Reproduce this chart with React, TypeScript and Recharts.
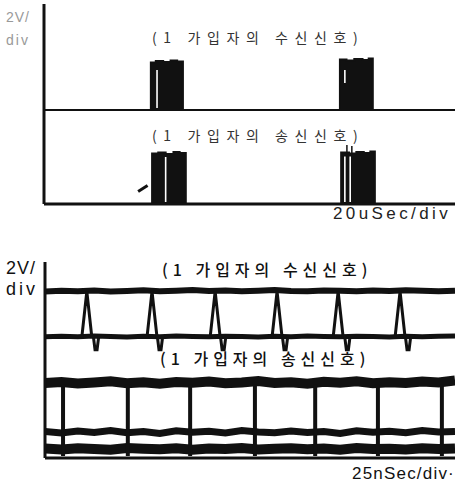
import { Area, ComposedChart, Line, ReferenceLine, XAxis, YAxis } from "recharts";

// upper photo (20uSec/div): x in divisions, y in volts-ish units
const rxBase = 3.76;
const rxBurstTime = [0, 2.6, 2.72, 2.9, 3.08, 3.24, 3.38, 7.2, 7.36, 7.55, 7.75, 7.9, 8.0, 10];
const rxBurstLevel = [3.76, 5.66, 5.72, 5.68, 5.74, 5.7, 3.76, 5.78, 5.74, 5.8, 5.76, 5.82, 3.76, 3.76];

const txBase = 0;
const txBurstTime = [0, 2.63, 2.78, 2.96, 3.15, 3.3, 3.45, 7.23, 7.42, 7.6, 7.78, 7.94, 8.05, 10];
const txBurstLevel = [0, 2.02, 2.06, 2.0, 2.08, 2.04, 0, 2.06, 2.02, 2.08, 2.04, 2.1, 0, 0];

// white slits inside the bursts
const gapTime = [2.75, 7.32, 2.96, 7.32, 7.45];
const gapLow = [3.84, 4.84, 0.08, 0.08, 0.08];
const gapHigh = [5.36, 5.36, 1.88, 1.9, 1.9];

// thin glitches above the second transmit burst
const glitchTime = [7.37, 7.49];
const glitchHigh = [2.36, 2.32];

// lower photo (25nSec/div)
const noiseTime = [0, 0.4, 0.8, 1.2, 1.6, 2.0, 2.4, 2.8, 3.2, 3.6, 4.0, 4.4, 4.8, 5.2, 5.6, 6.0, 6.4, 6.8, 7.2, 7.6, 8.0, 8.4, 8.8, 9.2, 9.6, 10];
const rxHighLevel = [6.8, 6.83, 6.81, 6.84, 6.8, 6.82, 6.85, 6.81, 6.83, 6.86, 6.82, 6.84, 6.81, 6.83, 6.86, 6.82, 6.81, 6.84, 6.83, 6.81, 6.84, 6.82, 6.85, 6.83, 6.81, 6.83];
const rxLowBand = [4.95, 4.97, 4.95, 4.98, 4.96, 4.94, 4.97, 4.95, 4.98, 4.96, 4.95, 4.97, 4.96, 4.94, 4.97, 4.95, 4.98, 4.96, 4.95, 4.97, 4.96, 4.94, 4.97, 4.95, 4.97, 4.98];

const rxLowTime = [0, 0.9, 1.02, 1.14, 1.18, 1.22, 1.27, 1.31, 2.49, 2.61, 2.73, 2.74, 2.78, 2.83, 2.87, 4.03, 4.15, 4.27, 4.28, 4.32, 4.37, 4.41, 5.54, 5.66, 5.78, 5.79, 5.83, 5.88, 5.92, 7.03, 7.15, 7.27, 7.31, 7.35, 7.4, 7.44, 8.54, 8.66, 8.78, 8.79, 8.83, 8.88, 8.92, 10];
const rxLowLevel = [4.96, 4.96, 6.8, 4.96, 4.96, 4.42, 4.42, 4.96, 4.96, 6.8, 4.96, 4.96, 4.42, 4.42, 4.96, 4.96, 6.8, 4.96, 4.96, 4.42, 4.42, 4.96, 4.96, 6.8, 4.96, 4.96, 4.42, 4.42, 4.96, 4.96, 6.8, 4.96, 4.96, 4.42, 4.42, 4.96, 4.96, 6.8, 4.96, 4.96, 4.42, 4.42, 4.96, 4.96];

const txHighLevel = [3.06, 3.1, 3.04, 3.08, 3.13, 3.05, 3.09, 3.03, 3.1, 3.07, 3.12, 3.05, 3.08, 3.14, 3.06, 3.09, 3.03, 3.11, 3.07, 3.13, 3.05, 3.09, 3.06, 3.12, 3.08, 3.16];
const txMidLevel = [1.08, 1.02, 1.1, 1.04, 1.12, 1.03, 1.08, 1.0, 1.11, 1.05, 1.09, 1.02, 1.12, 1.06, 1.03, 1.1, 1.04, 1.08, 1.0, 1.11, 1.05, 1.09, 1.03, 1.12, 1.06, 1.08];
const txLowLevel = [0.39, 0.35, 0.4, 0.37, 0.34, 0.41, 0.38, 0.36, 0.4, 0.34, 0.39, 0.37, 0.41, 0.35, 0.38, 0.4, 0.36, 0.39, 0.34, 0.41, 0.37, 0.38, 0.35, 0.4, 0.37, 0.39];

const txDropTime = [0.44, 2.02, 3.54, 5.12, 6.59, 8.12, 9.68];
const txDropTop = 3.0;
const txDropFoot = 0.08;

const rxLabel = "(1 가입자의 수신신호)";
const txLabel = "(1 가입자의 송신신호)";

const INK = "#111";

const rxRows = rxBurstTime.map((t, i) => ({ t, v: [rxBase, rxBurstLevel[i]] }));
const txRows = txBurstTime.map((t, i) => ({ t, v: [txBase, txBurstLevel[i]] }));
const rxHighRows = noiseTime.map((t, i) => ({ t, v: rxHighLevel[i] }));
const rxBandRows = noiseTime.map((t, i) => ({ t, v: rxLowBand[i] }));
const rxLowRows = rxLowTime.map((t, i) => ({ t, v: rxLowLevel[i] }));
const txHighRows = noiseTime.map((t, i) => ({ t, v: txHighLevel[i] }));
const txMidRows = noiseTime.map((t, i) => ({ t, v: txMidLevel[i] }));
const txLowRows = noiseTime.map((t, i) => ({ t, v: txLowLevel[i] }));
const dropRows = txDropTime.flatMap((t) => [
  { t, v: txDropTop },
  { t, v: txDropFoot },
  { t, v: null }
]);

const cjk = '"Noto Sans CJK KR", "Noto Sans", sans-serif';
const latin = '"Liberation Sans", Arial, sans-serif';

function Txt({ x, y, size, color = "#222", spacing = 0, font = latin, weight = 400, children }: any) {
  return (
    <div
      style={{
        position: "absolute",
        left: x,
        top: y,
        fontSize: size,
        lineHeight: 1,
        color,
        letterSpacing: spacing,
        fontFamily: font,
        fontWeight: weight,
        whiteSpace: "pre"
      }}
    >
      {children}
    </div>
  );
}

function axes(top: number) {
  return [
    <XAxis
      key="x"
      type="number"
      dataKey="t"
      domain={[0, 10]}
      allowDataOverflow
      tick={false}
      tickLine={false}
      height={26}
      axisLine={{ stroke: INK, strokeWidth: 3 }}
    />,
    <YAxis
      key="y"
      type="number"
      domain={[0, top]}
      allowDataOverflow
      tick={false}
      tickLine={false}
      width={44}
      axisLine={{ stroke: INK, strokeWidth: 3 }}
    />
  ];
}

function BurstScope() {
  return (
    <ComposedChart width={459} height={230} margin={{ top: 4, right: 4, bottom: 0, left: 0 }}>
      {axes(8)}
      <Area data={rxRows} dataKey="v" type="stepAfter" stroke={INK} strokeWidth={2} fill={INK} fillOpacity={1} dot={false} activeDot={false} isAnimationActive={false} />
      <Area data={txRows} dataKey="v" type="stepAfter" stroke={INK} strokeWidth={2} fill={INK} fillOpacity={1} dot={false} activeDot={false} isAnimationActive={false} />
      {gapTime.map((t, i) => (
        <ReferenceLine key={"g" + i} segment={[{ x: t, y: gapLow[i] }, { x: t, y: gapHigh[i] }]} stroke="#fff" strokeWidth={1.6} />
      ))}
      {glitchTime.map((t, i) => (
        <ReferenceLine key={"s" + i} segment={[{ x: t, y: 1.9 }, { x: t, y: glitchHigh[i] }]} stroke={INK} strokeWidth={1.5} />
      ))}
      <ReferenceLine segment={[{ x: 2.29, y: 0.5 }, { x: 2.52, y: 0.74 }]} stroke={INK} strokeWidth={3} />
    </ComposedChart>
  );
}

function PulseScope() {
  return (
    <ComposedChart width={459} height={234} margin={{ top: 12, right: 4, bottom: 0, left: 1 }}>
      {axes(8)}
      <Line data={rxHighRows} dataKey="v" stroke={INK} strokeWidth={6} dot={false} activeDot={false} isAnimationActive={false} />
      <Line data={rxBandRows} dataKey="v" stroke={INK} strokeWidth={5} dot={false} activeDot={false} isAnimationActive={false} />
      <Line data={rxLowRows} dataKey="v" stroke={INK} strokeWidth={3} dot={false} activeDot={false} isAnimationActive={false} />
      <Line data={txHighRows} dataKey="v" stroke={INK} strokeWidth={10} dot={false} activeDot={false} isAnimationActive={false} />
      <Line data={txMidRows} dataKey="v" stroke={INK} strokeWidth={7} dot={false} activeDot={false} isAnimationActive={false} />
      <Line data={txLowRows} dataKey="v" stroke={INK} strokeWidth={10} dot={false} activeDot={false} isAnimationActive={false} />
      <Line data={dropRows} dataKey="v" stroke={INK} strokeWidth={4} dot={false} activeDot={false} connectNulls={false} isAnimationActive={false} />
    </ComposedChart>
  );
}

export default function App() {
  return (
    <div style={{ position: "absolute", left: 0, top: 0, width: 459, height: 484, background: "#fff", overflow: "hidden" }}>
      <div style={{ position: "absolute", left: 0, top: 0 }}>
        <BurstScope />
      </div>
      <div style={{ position: "absolute", left: 0, top: 250 }}>
        <PulseScope />
      </div>

      <Txt x={6} y={10} size={14} color="#999" spacing={1}>2V/</Txt>
      <Txt x={6} y={33} size={14} color="#999" spacing={2}>div</Txt>
      <Txt x={152} y={30} size={14} color="#333" spacing={6.6} font={cjk}>{rxLabel}</Txt>
      <Txt x={152} y={128} size={14} color="#333" spacing={6.6} font={cjk}>{txLabel}</Txt>
      <Txt x={333} y={205} size={17} spacing={3.4}>20uSec/div</Txt>

      <Txt x={6} y={259} size={18} color={INK} spacing={1}>2V/</Txt>
      <Txt x={6} y={280} size={18} color={INK} spacing={3}>div</Txt>
      <Txt x={162} y={261} size={16} color={INK} spacing={5} font={cjk} weight={500}>{rxLabel}</Txt>
      <Txt x={160} y={350} size={16} color={INK} spacing={5} font={cjk} weight={500}>{txLabel}</Txt>
      <Txt x={352} y={465} size={17} color={INK} spacing={1.2}>25nSec/div·</Txt>
    </div>
  );
}
